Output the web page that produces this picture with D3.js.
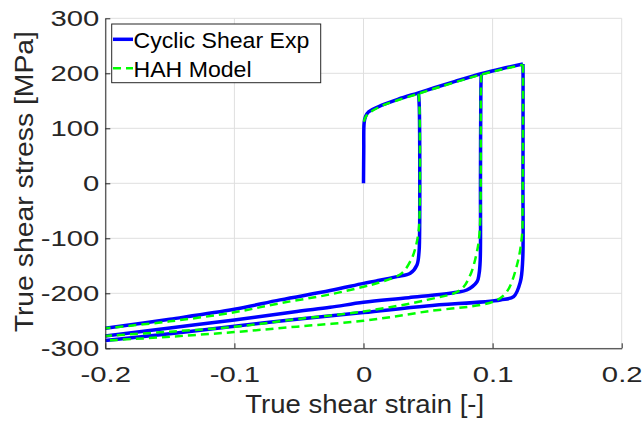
<!DOCTYPE html>
<html>
<head>
<meta charset="utf-8">
<script src="https://cdn.jsdelivr.net/npm/d3@7"></script>
<style>
  body { margin: 0; background: #fff; }
  svg { display: block; font-family: "Liberation Sans", Arial, Helvetica, sans-serif; }
</style>
</head>
<body>
<svg id="chart" width="643" height="422"></svg>
<script>
// monotonic loading, shared by the three tests
const expLoadStrain = [0, 0.0002, 0.0005, 0.0015, 0.004, 0.0142, 0.027, 0.0426, 0.055, 0.071, 0.0912, 0.107, 0.1235];
const expLoadStress = [0, 60, 110, 121, 130, 142, 153, 164.5, 173.8, 185.3, 199.2, 208.4, 217];
const hahLoadStrain = [0.0003, 0.0015, 0.004, 0.0142, 0.027, 0.0426, 0.055, 0.071, 0.0912, 0.107, 0.1235];
const hahLoadStress = [112, 120, 127, 141, 151.5, 163, 172.3, 183.8, 197.7, 207, 215.5];

// reverse shear after each prestrain
const expRev1Strain = [0.0426, 0.0432, 0.0434, 0.043, 0.0414, 0.0362, 0.0259, 0.01, 0, -0.0258, -0.0646, -0.1, -0.15, -0.2];
const expRev1Stress = [164.5, 140, -100, -125, -148.5, -163.6, -169.7, -177.5, -182, -195, -212, -229, -247, -263.6];
const expRev2Strain = [0.0912, 0.0909, 0.0906, 0.0904, 0.0895, 0.0879, 0.08, 0.0724, 0.035, 0, -0.0258, -0.0516, -0.1, -0.15, -0.2];
const expRev2Stress = [199.2, 170, 0, -140, -165, -179, -194, -198, -208, -216.4, -225.5, -233, -248.5, -263, -277.6];
const expRev3Strain = [0.1235, 0.1236, 0.1235, 0.1233, 0.1215, 0.1163, 0.106, 0.049, 0, -0.0516, -0.1, -0.15, -0.2];
const expRev3Stress = [217, 190, 0, -140, -179, -206, -212, -223, -235, -247, -260, -273.4, -286];

const hahRev1Strain = [0.0426, 0.0433, 0.0434, 0.0425, 0.0405, 0.0375, 0.031, 0.0259, 0.0103, 0, -0.0258, -0.0646, -0.1, -0.15, -0.2];
const hahRev1Stress = [163, 140, -60, -90, -115, -136, -160.7, -169, -181.8, -188, -202, -218, -234.5, -251, -263.6];
const hahRev2Strain = [0.0912, 0.0909, 0.0905, 0.0895, 0.0879, 0.0827, 0.075, 0.049, 0, -0.0516, -0.1, -0.15, -0.2];
const hahRev2Stress = [197.7, 170, -60, -100, -124, -166.7, -194, -212, -233, -247, -261, -269.7, -277.6];
const hahRev3Strain = [0.1235, 0.1236, 0.1232, 0.1228, 0.1189, 0.111, 0.1008, 0.049, 0, -0.0516, -0.1, -0.15, -0.2];
const hahRev3Stress = [215.5, 190, -40, -94, -148.5, -197, -215, -233, -250, -260.6, -270.5, -279, -286];

const xTicks = [-0.2, -0.1, 0, 0.1, 0.2];
const yTicks = [-300, -200, -100, 0, 100, 200, 300];
const legendNames = ["Cyclic Shear Exp", "HAH Model"];

const svg = d3.select("#chart");
const textColor = "#262626";

const x = d3.scaleLinear().domain([-0.2, 0.2]).range([105.3, 621.7]);
const y = d3.scaleLinear().domain([-300, 300]).range([348.3, 18.3]);

function zipPts(xs, ys) {
    return xs.map((v, i) => [v, ys[i]]);
}

const expCurves = [
    zipPts(expLoadStrain, expLoadStress),
    zipPts(expRev1Strain, expRev1Stress),
    zipPts(expRev2Strain, expRev2Stress),
    zipPts(expRev3Strain, expRev3Stress)
];
const hahCurves = [
    zipPts(hahLoadStrain, hahLoadStress),
    zipPts(hahRev1Strain, hahRev1Stress),
    zipPts(hahRev2Strain, hahRev2Stress),
    zipPts(hahRev3Strain, hahRev3Stress)
];

// grid
const grid = svg.append("g").attr("stroke", "#dfdfdf").attr("stroke-width", 1);
grid.selectAll(".gx").data(xTicks).enter().append("line")
    .attr("x1", d => x(d)).attr("x2", d => x(d))
    .attr("y1", y(-300)).attr("y2", y(300));
grid.selectAll(".gy").data(yTicks).enter().append("line")
    .attr("x1", x(-0.2)).attr("x2", x(0.2))
    .attr("y1", d => y(d)).attr("y2", d => y(d));

// curves
const line = d3.line()
    .x(d => x(d[0]))
    .y(d => y(d[1]))
    .curve(d3.curveCatmullRom.alpha(0.5));

svg.append("g").selectAll("path").data(expCurves).enter().append("path")
    .attr("d", line)
    .attr("fill", "none")
    .attr("stroke", "#0000ff")
    .attr("stroke-width", 3.5)
    .attr("stroke-linejoin", "round");

svg.append("g").selectAll("path").data(hahCurves).enter().append("path")
    .attr("d", line)
    .attr("fill", "none")
    .attr("stroke", "#00ff00")
    .attr("stroke-width", 2.5)
    .attr("stroke-dasharray", "8,5");

// axes
const tickSx = 1.33;
const xAxis = svg.append("g")
    .attr("transform", `translate(0,${y(-300)})`)
    .call(d3.axisBottom(x).tickValues(xTicks).tickSize(-5).tickSizeOuter(0)
        .tickPadding(18).tickFormat(d => String(d)));
const yAxis = svg.append("g")
    .attr("transform", `translate(${x(-0.2)},0)`)
    .call(d3.axisLeft(y).tickValues(yTicks).tickSize(-5).tickSizeOuter(0)
        .tickPadding(6).tickFormat(d => String(d)));

[xAxis, yAxis].forEach(g => {
    g.attr("color", textColor)
        .attr("font-family", null)
        .attr("font-size", 22);
    g.selectAll("line, path").attr("stroke-width", 1);
    g.selectAll("text").attr("fill", textColor);
});
xAxis.selectAll("text").attr("transform", `scale(${tickSx},1)`);
yAxis.selectAll("text")
    .attr("x", -6 / tickSx)
    .attr("transform", `scale(${tickSx},1)`);

// axis labels
svg.append("text")
    .attr("transform", "translate(364.7,413.3) scale(1.1,1)")
    .attr("text-anchor", "middle")
    .attr("font-size", 25)
    .attr("fill", textColor)
    .text("True shear strain [-]");

svg.append("text")
    .attr("transform", "translate(33.3,181.7) rotate(-90) scale(1.09,1)")
    .attr("text-anchor", "middle")
    .attr("font-size", 26)
    .attr("fill", textColor)
    .text("True shear stress [MPa]");

// legend
const legend = svg.append("g");
legend.append("rect")
    .attr("x", 111.7).attr("y", 24)
    .attr("width", 209).attr("height", 58.7)
    .attr("fill", "#fff")
    .attr("stroke", textColor)
    .attr("stroke-width", 1);

const legendStyles = [
    { color: "#0000ff", width: 3.5, dash: null },
    { color: "#00ff00", width: 2.5, dash: "8,5" }
];
const legendY = d3.scalePoint().domain(legendNames).range([39.3, 68.3]);

legendNames.forEach((name, i) => {
    legend.append("line")
        .attr("x1", 113).attr("x2", 133)
        .attr("y1", legendY(name)).attr("y2", legendY(name))
        .attr("stroke", legendStyles[i].color)
        .attr("stroke-width", legendStyles[i].width)
        .attr("stroke-dasharray", legendStyles[i].dash);
    legend.append("text")
        .attr("transform", `translate(133.5,${legendY(name) + 8.6}) scale(1.05,1)`)
        .attr("font-size", 22)
        .attr("fill", "#000")
        .text(name);
});
</script>
</body>
</html>
